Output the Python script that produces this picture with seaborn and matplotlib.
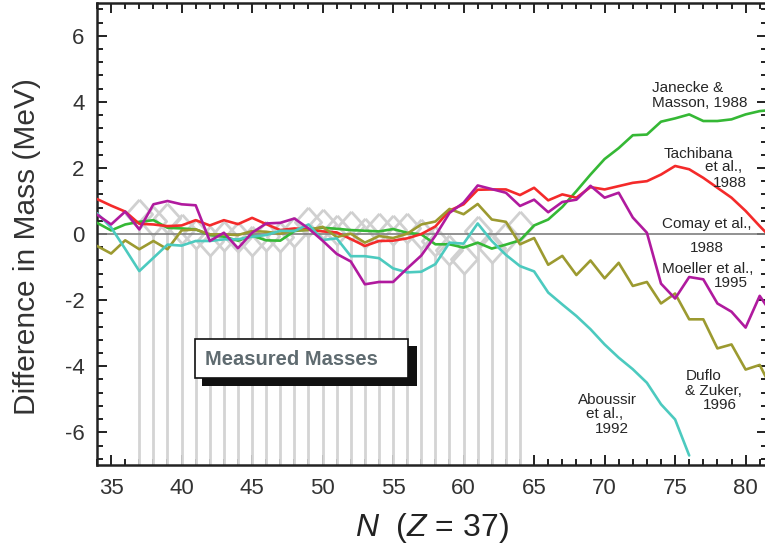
import numpy as np
import pandas as pd
import matplotlib
matplotlib.use("Agg")
import matplotlib.pyplot as plt
import seaborn as sns
from matplotlib import font_manager
from matplotlib.patches import Rectangle
from matplotlib.ticker import MultipleLocator

# -------------------------------
# Data: mass differences (MeV) vs neutron number N, Z = 37
# -------------------------------
n_model = list(range(34, 83))
n_aboussir = list(range(34, 77))

tachibana = [1.06, 0.86, 0.68, 0.31, 0.29, 0.24, 0.26, 0.42, 0.26, 0.42,
             0.30, 0.49, 0.30, 0.12, 0.17, 0.14, 0.08, 0.05, -0.15, -0.36,
             -0.21, -0.20, -0.13, 0.00, 0.23, 0.71, 0.90, 1.34, 1.35, 1.35,
             1.18, 1.40, 1.02, 1.20, 1.10, 1.42, 1.35, 1.45, 1.55, 1.60,
             1.80, 2.06, 1.96, 1.70, 1.40, 1.10, 0.70, 0.24, -0.20]

janecke = [0.34, 0.11, 0.29, 0.37, 0.42, 0.19, 0.17, 0.14, -0.03, -0.08,
           -0.20, -0.05, -0.19, -0.20, 0.09, 0.14, 0.19, 0.16, 0.12, 0.10,
           0.08, 0.15, 0.04, -0.01, -0.31, -0.31, -0.41, -0.26, -0.44, -0.32,
           -0.19, 0.26, 0.44, 0.82, 1.30, 1.80, 2.27, 2.60, 2.99, 3.01,
           3.40, 3.50, 3.62, 3.42, 3.42, 3.47, 3.62, 3.72, 3.76]

moeller = [0.59, 0.29, 0.68, 0.14, 0.90, 1.00, 0.90, 0.87, -0.21, 0.04,
           -0.43, 0.04, 0.32, 0.34, 0.47, 0.17, -0.20, -0.60, -0.83, -1.52,
           -1.45, -1.45, -1.04, -0.65, -0.05, 0.64, 0.95, 1.47, 1.36, 1.25,
           0.85, 1.04, 0.66, 0.97, 1.04, 1.46, 1.10, 1.25, 0.50, 0.04,
           -1.50, -1.95, -1.30, -1.37, -2.10, -2.35, -2.83, -1.87, -2.50]

aboussir = [0.63, 0.20, -0.45, -1.12, -0.72, -0.32, -0.35, -0.21, -0.21, -0.16,
            -0.16, -0.08, -0.03, 0.10, 0.09, 0.29, -0.18, -0.13, -0.67, -0.67,
            -0.73, -1.04, -1.16, -1.14, -0.91, -0.26, -0.29, 0.32, -0.21, -0.63,
            -0.97, -1.13, -1.77, -2.13, -2.48, -2.88, -3.34, -3.74, -4.09, -4.50,
            -5.15, -5.61, -6.70]

duflo = [-0.36, -0.59, -0.19, -0.46, -0.21, -0.46, 0.11, 0.14, -0.01, -0.01,
         -0.03, 0.09, 0.07, 0.01, 0.11, 0.12, 0.22, -0.09, 0.01, -0.26,
         -0.06, -0.12, 0.01, 0.29, 0.38, 0.76, 0.60, 0.91, 0.44, 0.37,
         -0.31, -0.12, -0.93, -0.66, -1.24, -0.80, -1.34, -0.87, -1.57, -1.45,
         -2.10, -1.80, -2.58, -2.58, -3.46, -3.34, -4.10, -3.96, -4.80]

# measured masses (gray diamonds)
n_measured = list(range(37, 65))
measured = [0.60, 0.40, 0.50, 0.15, 0.00, -0.20, -0.05, -0.10, -0.20, -0.05,
            -0.10, 0.05, 0.35, 0.30, 0.12, 0.25, 0.02, 0.17, 0.12, 0.17,
            0.00, -0.20, -0.47, -0.74, 0.10, -0.41, -0.10, 0.24]

palette = {"Tachibana": "#f42a2a", "Janecke": "#35b835", "Moeller": "#b01a9e",
           "Aboussir": "#4ccabf", "Duflo": "#9c9a30"}

frames = []
for name, n, vals in [("Janecke", n_model, janecke), ("Tachibana", n_model, tachibana),
                      ("Duflo", n_model, duflo), ("Aboussir", n_aboussir, aboussir),
                      ("Moeller", n_model, moeller)]:
    frames.append(pd.DataFrame({"N": n, "dM": vals, "model": name}))
df = pd.concat(frames, ignore_index=True)

# -------------------------------
# Style
# -------------------------------
sns.set_style("ticks")
names = {f.name for f in font_manager.fontManager.ttflist}
narrow = "Liberation Sans Narrow" if "Liberation Sans Narrow" in names else "Liberation Sans"
plt.rcParams["font.family"] = ["Liberation Sans", "DejaVu Sans"]
plt.rcParams["axes.unicode_minus"] = False
plt.rcParams["mathtext.fontset"] = "custom"
plt.rcParams["mathtext.it"] = narrow + ":italic"
plt.rcParams["mathtext.rm"] = narrow

fig = plt.figure(figsize=(7.65, 5.54), dpi=100)
ax = fig.add_axes([97 / 765, 88.6 / 554, 670 / 765, 462.7 / 554])

# measured masses: vertical stems + hollow diamonds
meas = np.array(measured)
ax.vlines(n_measured, -7, meas - 0.42, color="#d4d4d4", lw=2, zorder=1)
diamond = [(0, 1), (0.9, 0), (0, -1), (-0.9, 0), (0, 1)]
ax.plot(n_measured, measured, ls="none", marker=diamond, ms=21,
        mfc="none", mec="#d0d0d0", mew=2, zorder=1)

# Comay et al. reference (zero line)
ax.axhline(0, color="#7f7f7f", lw=1.2, zorder=2)

sns.lineplot(data=df, x="N", y="dM", hue="model", palette=palette,
             linewidth=1.9, legend=False, estimator=None, sort=False,
             ax=ax, zorder=3)

ax.set_xlim(34, 34 + 670 / 14.1)
ax.set_ylim(-7, 7)
ax.xaxis.set_major_locator(MultipleLocator(5))
ax.xaxis.set_minor_locator(MultipleLocator(1))
ax.yaxis.set_major_locator(MultipleLocator(2))
ax.yaxis.set_minor_locator(MultipleLocator(0.4))
ax.tick_params(which="both", direction="in", top=True, right=True,
               color="#222222", width=1.4)
ax.tick_params(which="major", length=7, pad=9, labelsize=16, labelcolor="#333333")
ax.tick_params(which="minor", length=4)
for lab in ax.get_xticklabels() + ax.get_yticklabels():
    lab.set_family(narrow)
for sp in ax.spines.values():
    sp.set_linewidth(1.8)
    sp.set_color("#222222")

ax.set_ylabel("Difference in Mass (MeV)", fontsize=21.5, color="#333333", va="center")
ax.yaxis.set_label_coords(-0.105, 0.473)
ax.set_xlabel(r"$N$  ($Z$ = 37)", fontsize=23, color="#222222", va="center")
ax.xaxis.set_label_coords(0.5, -0.135)

# curve labels
labels = [
    ("Janecke &", 73.35, 4.43, "left"),
    ("Masson, 1988", 73.35, 3.97, "left"),
    ("Tachibana", 79.11, 2.41, "right"),
    ("et al.,", 79.74, 2.04, "right"),
    ("1988", 80.10, 1.55, "right"),
    ("Comay et al.,", 74.06, 0.29, "left"),
    ("1988", 77.23, -0.43, "center"),
    ("Moeller et al.,", 74.08, -1.07, "left"),
    ("1995", 80.18, -1.47, "right"),
    ("Duflo", 75.78, -4.30, "left"),
    ("& Zuker,", 75.71, -4.75, "left"),
    ("1996", 76.99, -5.17, "left"),
    ("Aboussir", 68.12, -5.03, "left"),
    ("et al.,", 68.69, -5.45, "left"),
    ("1992", 69.33, -5.90, "left"),
]
for txt, x, y, ha in labels:
    ax.text(x, y, txt, ha=ha, va="center", fontsize=11, color="#262626", zorder=6)

# "Measured Masses" box with drop shadow
ax.add_patch(Rectangle((41.45, -4.60), 15.25, 1.21, fc="#111111", ec="none", zorder=5))
ax.add_patch(Rectangle((40.96, -4.36), 15.11, 1.18, fc="white", ec="#111111", lw=1.2, zorder=5))
ax.text(41.67, -3.79, "Measured Masses", ha="left", va="center", fontsize=14.5,
        fontweight="bold", color="#5f6b70", zorder=6)

fig.savefig("out.png", dpi=100)
